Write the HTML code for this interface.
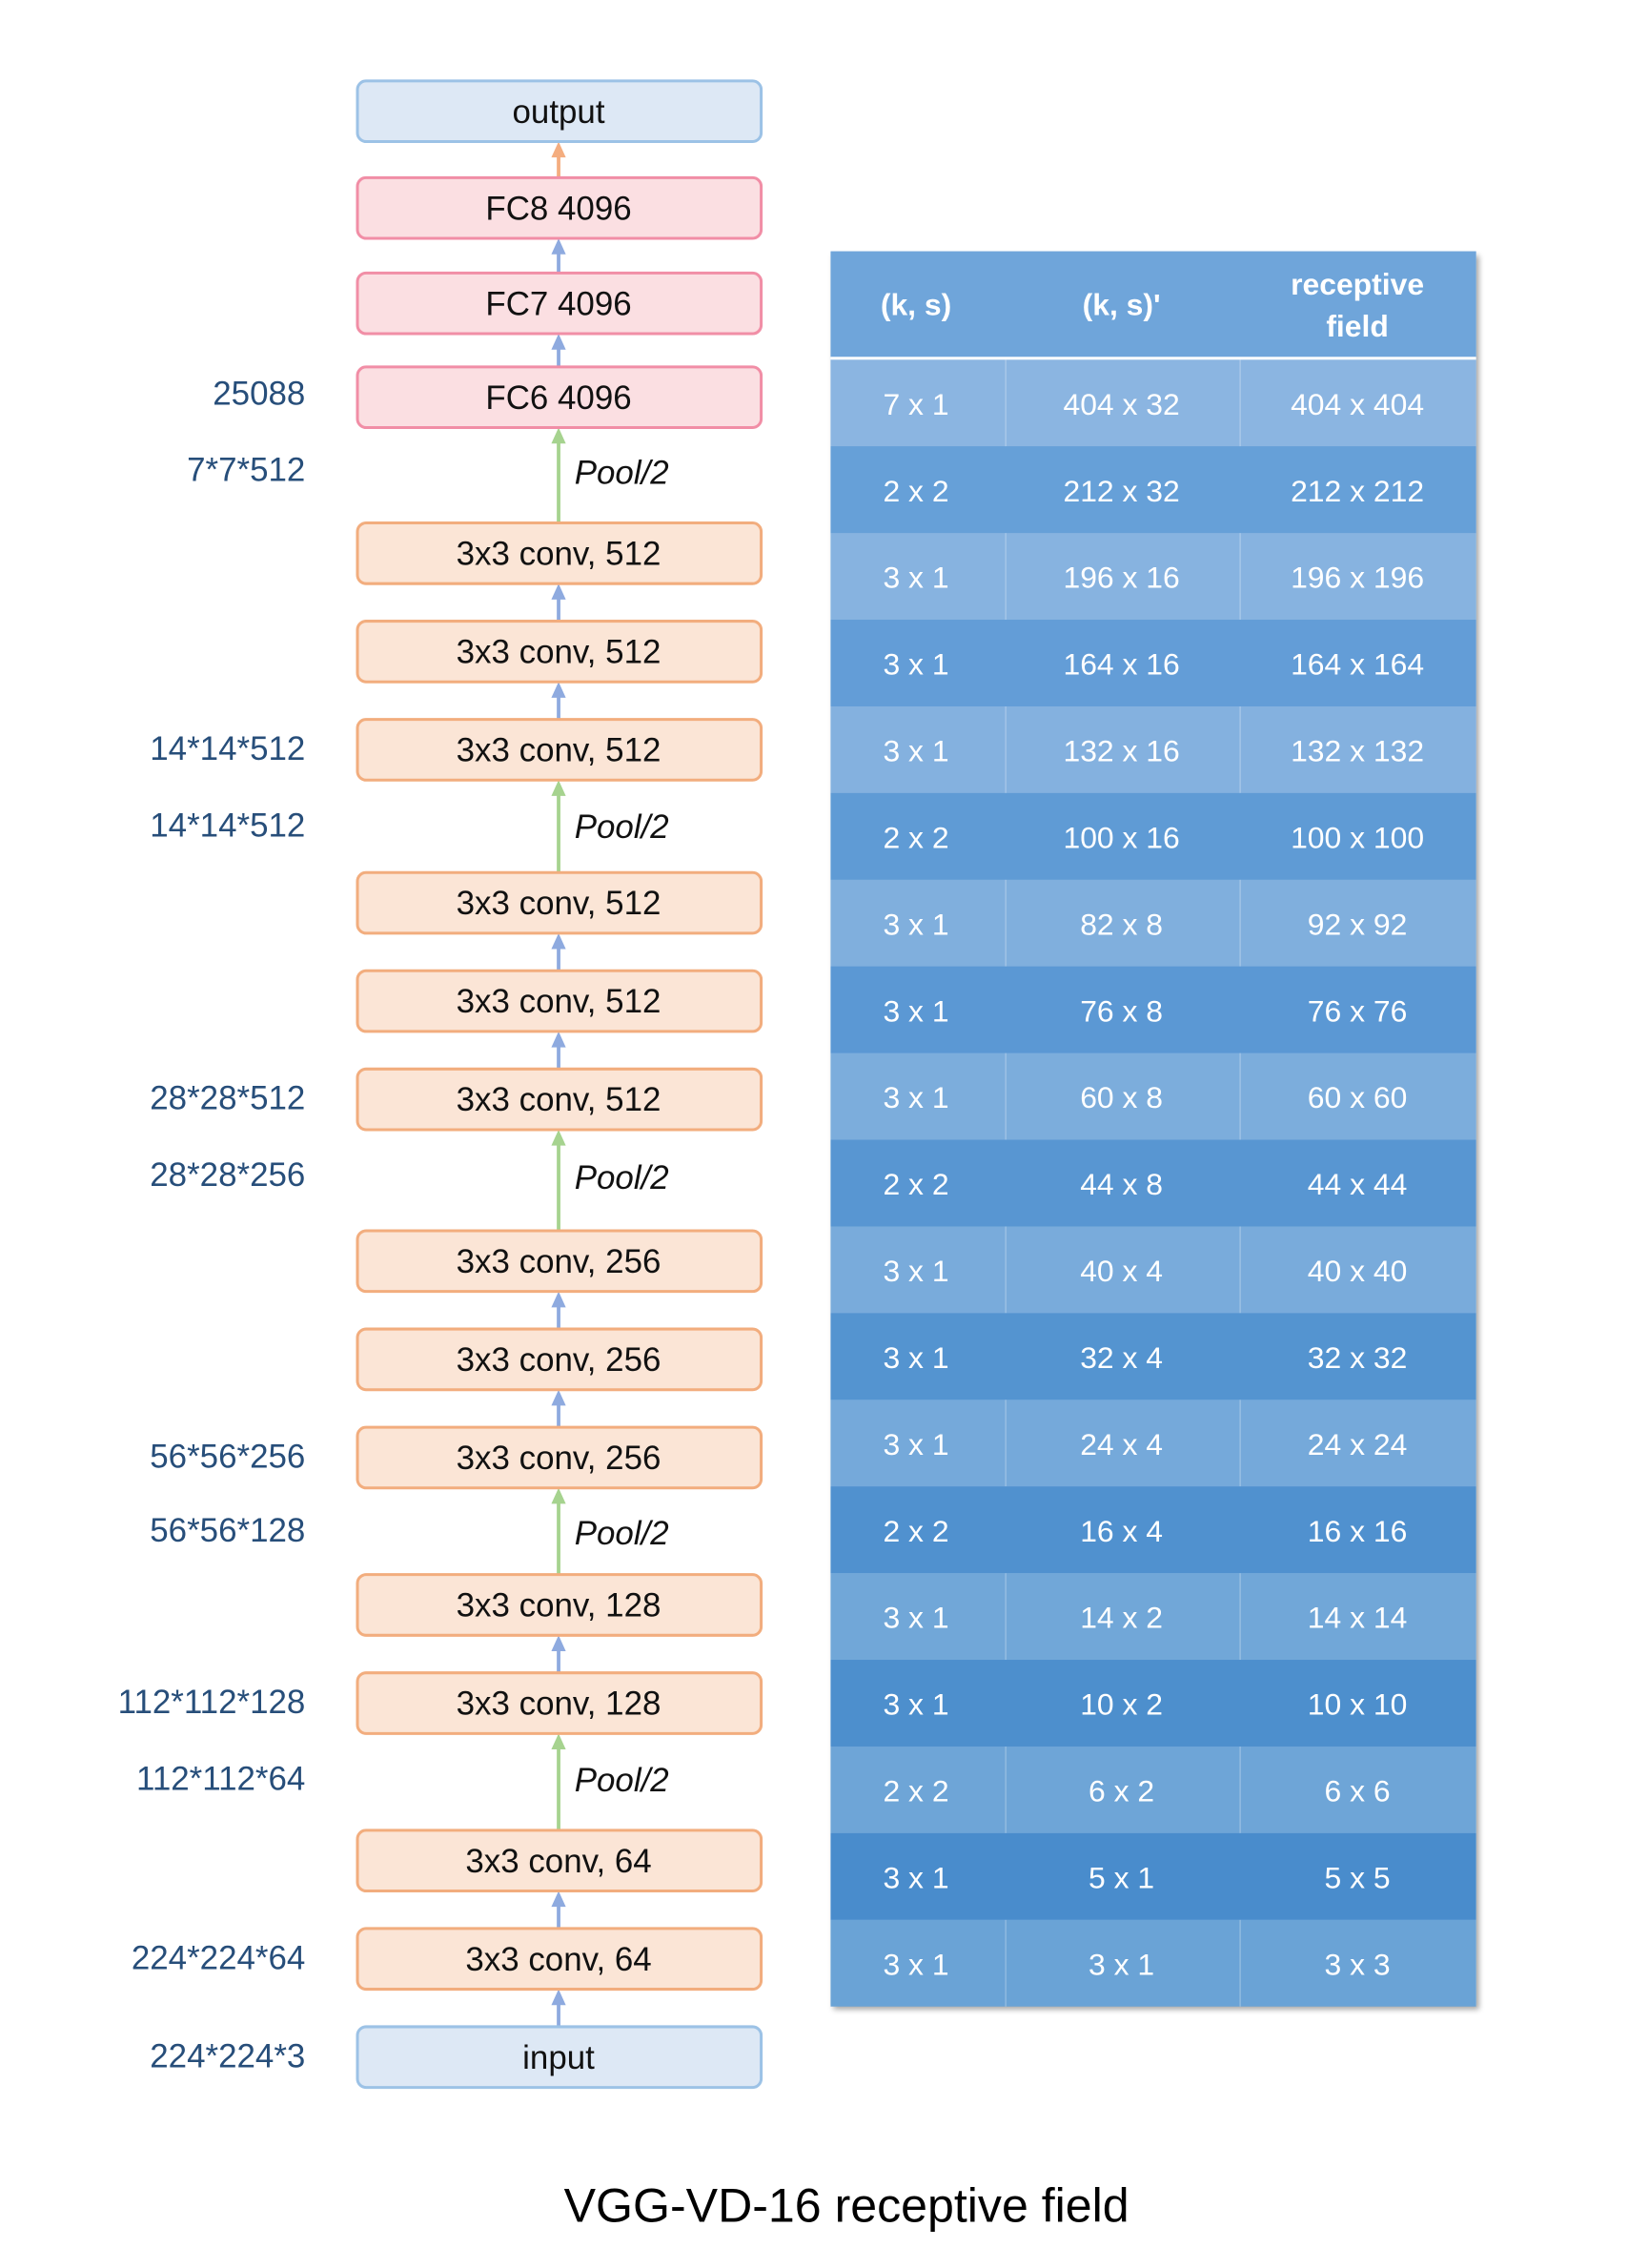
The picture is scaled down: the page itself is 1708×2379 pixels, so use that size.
<!DOCTYPE html>
<html><head><meta charset="utf-8">
<style>
html,body{margin:0;padding:0;background:#fff;}
svg{display:block;}
text{font-family:"Liberation Sans",sans-serif;}
</style></head>
<body>
<svg id="fig" width="1708" height="2379" viewBox="0 0 1125 1570" preserveAspectRatio="none" xmlns="http://www.w3.org/2000/svg">
<defs>
<filter id="sh" x="-5%" y="-5%" width="115%" height="115%"><feDropShadow dx="2" dy="3" stdDeviation="2" flood-color="#000" flood-opacity="0.35"/></filter>
</defs>
<g id="net"></g>
<g id="tbl"></g>
<text x="585" y="1538" text-anchor="middle" font-size="33" fill="#000">VGG-VD-16 receptive field</text>
</svg>
<script>
const layerNames = ["output","FC8 4096","FC7 4096","FC6 4096","3x3 conv, 512","3x3 conv, 512","3x3 conv, 512","3x3 conv, 512","3x3 conv, 512","3x3 conv, 512","3x3 conv, 256","3x3 conv, 256","3x3 conv, 256","3x3 conv, 128","3x3 conv, 128","3x3 conv, 64","3x3 conv, 64","input"];
const layerTops = [56,123,189,254,362,430,498,604,672,740,852,920,988,1090,1158,1267,1335,1403];
const sizeLabels = ["25088","7*7*512","14*14*512","14*14*512","28*28*512","28*28*256","56*56*256","56*56*128","112*112*128","112*112*64","224*224*64","224*224*3"];
const sizeLabelY = [272,325,518,571,760,813,1008,1059,1178,1231,1355,1423];
const poolY = [327,572,815,1061,1232];
const colKS = ["7 x 1","2 x 2","3 x 1","3 x 1","3 x 1","2 x 2","3 x 1","3 x 1","3 x 1","2 x 2","3 x 1","3 x 1","3 x 1","2 x 2","3 x 1","3 x 1","2 x 2","3 x 1","3 x 1"];
const colKS2 = ["404 x 32","212 x 32","196 x 16","164 x 16","132 x 16","100 x 16","82 x 8","76 x 8","60 x 8","44 x 8","40 x 4","32 x 4","24 x 4","16 x 4","14 x 2","10 x 2","6 x 2","5 x 1","3 x 1"];
const colRF = ["404 x 404","212 x 212","196 x 196","164 x 164","132 x 132","100 x 100","92 x 92","76 x 76","60 x 60","44 x 44","40 x 40","32 x 32","24 x 24","16 x 16","14 x 14","10 x 10","6 x 6","5 x 5","3 x 3"];

const NS="http://www.w3.org/2000/svg";
function mk(tag,attrs,parent,txt){const e=document.createElementNS(NS,tag);for(const k in attrs)e.setAttribute(k,attrs[k]);if(txt!==undefined)e.textContent=txt;parent.appendChild(e);return e;}
const net=document.getElementById('net');
const BX=247,BW=279,BH=42,CX=386;
function arrow(y1,y2,color,name){
  const g=mk('g',{},net);
  
  
  mk('line',{x1:CX,y1:y1,x2:CX,y2:y2+8,stroke:color,'stroke-width':2.5},g);
  mk('path',{d:`M${CX-5},${y2+11} L${CX},${y2} L${CX+5},${y2+11} Z`,fill:color},g);
}
for(let i=0;i<layerNames.length-1;i++){
  const top=layerTops[i]+BH, bot=layerTops[i+1];
  const isPool=(bot-top)>40;
  const col = i===0?'#f4ad7f':(isPool?'#a6d38f':'#8eaadf');
  arrow(bot,top,col,isPool?'pool-arrow':'flow-arrow');
}
layerNames.forEach((n,i)=>{
  const y=layerTops[i];
  let fill,stroke;
  if(n==='output'||n==='input'){fill='#dde8f5';stroke='#9cc2e6';}
  else if(n.startsWith('FC')){fill='#fbdfe2';stroke='#f18ea6';}
  else {fill='#fbe5d6';stroke='#f2ad7e';}
  const g=mk('g',{},net);
  
  
  mk('rect',{x:BX,y:y,width:BW,height:BH,rx:6,fill:fill,stroke:stroke,'stroke-width':2},g);
  mk('text',{x:CX,y:y+BH/2+8,'text-anchor':'middle','font-size':23,fill:'#111'},g,n);
});
sizeLabels.forEach((s,i)=>{
  const t=mk('text',{x:211,y:sizeLabelY[i]+8,'text-anchor':'end','font-size':23,fill:'#274e7a'},net,s);
  
  
});
poolY.forEach(y=>{
  const t=mk('text',{x:397,y:y+8,'font-size':23,'font-style':'italic',fill:'#111'},net,'Pool/2');
  
  
});

const tbl=document.getElementById('tbl');
const TX=574,TW=446,HY=174,HH=73,RY=249,RH=60;
const colX=[574,695,857,1020], colC=[633,775,938];
const n=colKS.length;
mk('rect',{x:TX,y:HY,width:TW,height:RY-HY+n*RH-1,fill:'#6fa5da',filter:'url(#sh)'},tbl);
const hdr=mk('g',{},tbl);


mk('rect',{x:TX,y:HY,width:TW,height:HH,fill:'#6fa5da'},hdr);
mk('rect',{x:TX,y:HY+HH,width:TW,height:2.5,fill:'#fff'},hdr);
mk('text',{x:colC[0],y:218,'text-anchor':'middle','font-size':21,'font-weight':'bold',fill:'#fff'},hdr,'(k, s)');
mk('text',{x:colC[1],y:218,'text-anchor':'middle','font-size':21,'font-weight':'bold',fill:'#fff'},hdr,"(k, s)'");
mk('text',{x:colC[2],y:204,'text-anchor':'middle','font-size':21,'font-weight':'bold',fill:'#fff'},hdr,'receptive');
mk('text',{x:colC[2],y:233,'text-anchor':'middle','font-size':21,'font-weight':'bold',fill:'#fff'},hdr,'field');
function lerp(a,b,t){return Math.round(a+(b-a)*t);}
for(let i=0;i<n;i++){
  const y=RY+i*RH, t=i/(n-1);
  const light=i%2===0;
  const c= light ? [lerp(0x8b,0x6a,t),lerp(0xb5,0xa3,t),lerp(0xe1,0xd6,t)] : [lerp(0x68,0x47,t),lerp(0xa1,0x8b,t),lerp(0xd9,0xcb,t)];
  const g=mk('g',{},tbl);
  
  
  mk('rect',{x:TX,y:y,width:TW,height:RH,fill:`rgb(${c[0]},${c[1]},${c[2]})`},g);
  if(light){
    mk('line',{x1:colX[1],y1:y,x2:colX[1],y2:y+RH,stroke:'rgba(255,255,255,0.25)','stroke-width':1},g);
    mk('line',{x1:colX[2],y1:y,x2:colX[2],y2:y+RH,stroke:'rgba(255,255,255,0.25)','stroke-width':1},g);
  }
  [colKS[i],colKS2[i],colRF[i]].forEach((v,j)=>{
    mk('text',{x:colC[j],y:y+RH/2+8,'text-anchor':'middle','font-size':21,fill:'#fff'},g,v);
  });
}
</script>
</body></html>
